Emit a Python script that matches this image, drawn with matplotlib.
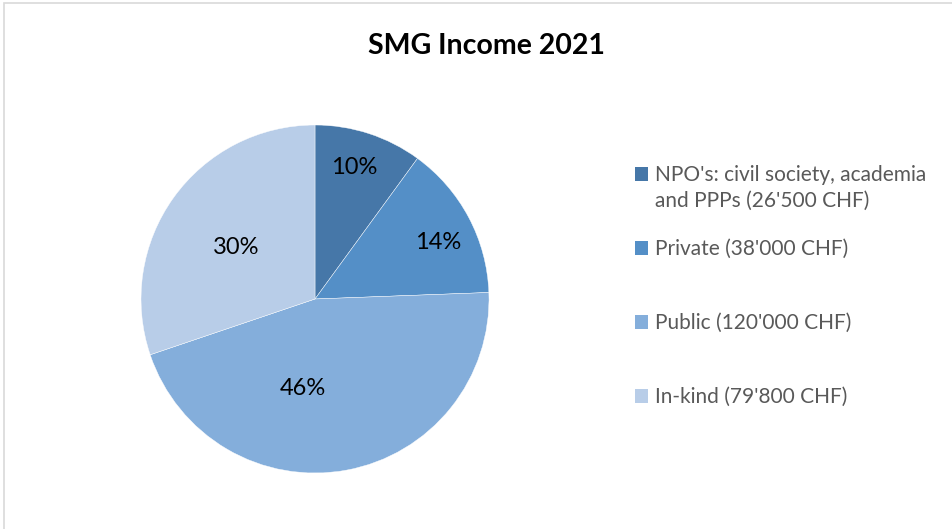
import matplotlib.pyplot as plt
from matplotlib.patches import Rectangle
import numpy as np

plt.rcParams['font.family'] = ['Lato', 'DejaVu Sans']

# data
sources = ["NPO's: civil society, academia\nand PPPs (26'500 CHF)",
           "Private (38'000 CHF)",
           "Public (120'000 CHF)",
           "In-kind (79'800 CHF)"]
income = [26500, 38000, 120000, 79800]
pct_labels = ["10%", "14%", "46%", "30%"]
colors = ["#4677A8", "#548FC7", "#84AEDB", "#B8CDE8"]

# label placement (radius fraction, angle nudge in degrees) like Excel's
label_r = [0.79, 0.78, 0.52, 0.54]
label_nudge = [1.5, -3.5, -18, 2.6]

W, H = 952, 529
fig = plt.figure(figsize=(W / 100, H / 100), dpi=100)

# chart area border (only left and top edges visible)
fig.patches.append(Rectangle((4 / W, -0.1), 1.2, 1 - 3 / H + 0.1,
                             transform=fig.transFigure, fill=False,
                             edgecolor="#D9D9D9", linewidth=1.2))

cx, cy, r = 315, 299, 174
ax = fig.add_axes([(cx - r) / W, (H - cy - r) / H, 2 * r / W, 2 * r / H])
wedges, _ = ax.pie(income, colors=colors, startangle=90, counterclock=False,
                   wedgeprops=dict(edgecolor="white", linewidth=0.3))
ax.set_xlim(-1, 1)
ax.set_ylim(-1, 1)
ax.set_aspect("equal")
ax.axis("off")

for w, lab, rf, nd in zip(wedges, pct_labels, label_r, label_nudge):
    mid = np.deg2rad((w.theta1 + w.theta2) / 2 + nd)
    ax.text(rf * np.cos(mid), rf * np.sin(mid), lab, ha="center", va="center",
            fontsize=17, color="black")

fig.text(486 / W, 1 - 46 / H, "SMG Income 2021", ha="center", va="center",
         fontsize=20.5, fontweight="bold", color="black")

# legend
leg_y = [174, 248, 322, 396]
for lab, col, y in zip(sources, colors, leg_y):
    fig.patches.append(Rectangle((635 / W, 1 - (y + 7) / H), 13 / W, 14 / H,
                                 transform=fig.transFigure, facecolor=col,
                                 edgecolor="none"))
    fig.text(655 / W, 1 - (y - 9) / H, lab, ha="left", va="top",
             fontsize=15, color="#595959", linespacing=1.38)

fig.savefig("out.png", dpi=100)
